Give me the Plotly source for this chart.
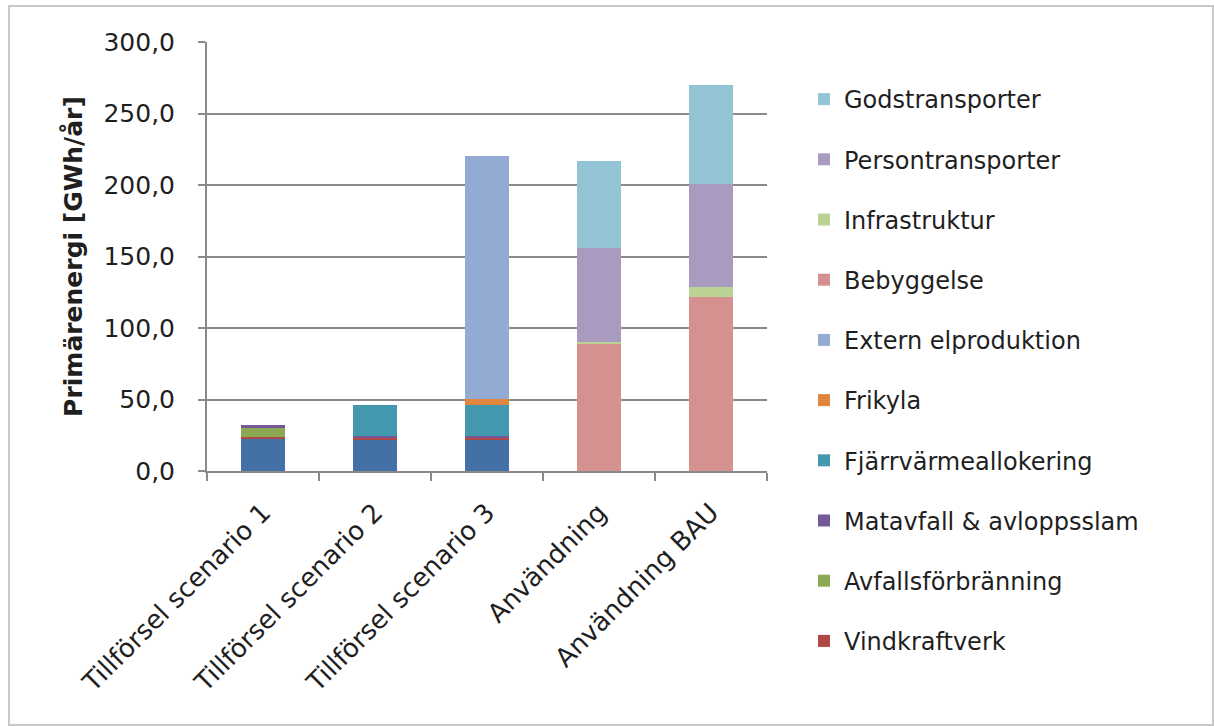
import plotly.graph_objects as go

categories = ["Tillförsel scenario 1", "Tillförsel scenario 2", "Tillförsel scenario 3",
              "Användning", "Användning BAU"]

# series values in GWh/år (stacked bottom to top)
ovrigt = [22.2, 21.8, 21.8, 0, 0]
vindkraftverk = [1.5, 1.5, 1.5, 0, 0]
avfallsforbranning = [6.3, 0, 0, 0, 0]
matavfall = [2.2, 1.3, 1.3, 0, 0]
fjarrvarme = [0, 21.6, 21.6, 0, 0]
frikyla = [0, 0, 3.9, 0, 0]
extern_el = [0, 0, 170.2, 0, 0]
bebyggelse = [0, 0, 0, 88.6, 122.0]
infrastruktur = [0, 0, 0, 1.8, 7.0]
persontransporter = [0, 0, 0, 65.6, 71.5]
godstransporter = [0, 0, 0, 60.8, 69.5]

series = [
    ("Övrig tillförsel", ovrigt, "#4470A8", False),
    ("Vindkraftverk", vindkraftverk, "#B04744", True),
    ("Avfallsförbränning", avfallsforbranning, "#8BA852", True),
    ("Matavfall & avloppsslam", matavfall, "#73599A", True),
    ("Fjärrvärmeallokering", fjarrvarme, "#4398AE", True),
    ("Frikyla", frikyla, "#E0863F", True),
    ("Extern elproduktion", extern_el, "#93AAD3", True),
    ("Bebyggelse", bebyggelse, "#D59190", True),
    ("Infrastruktur", infrastruktur, "#BAD395", True),
    ("Persontransporter", persontransporter, "#A99AC0", True),
    ("Godstransporter", godstransporter, "#92C4D6", True),
]

FONT = "DejaVu Sans"
TXT = "#1f1f1f"
AX = "#8a8a8a"

fig = go.Figure()
for i, (name, vals, color, show) in enumerate(series):
    fig.add_trace(go.Bar(
        x=categories, y=vals, name=name, marker=dict(color=color, line=dict(width=0)),
        showlegend=show, legendgroup=f"g{i}", legendrank=100 - i,
    ))

L, R, T, B = 207, 447, 42, 255
W, H = 1214, 726
pw, ph = W - L - R, H - T - B

def px_x(px):
    return (px - L) / pw

def px_y(py):
    return (H - B - py) / ph

fig.update_layout(
    width=W, height=H,
    margin=dict(l=L, r=R, t=T, b=B, pad=0, autoexpand=False),
    barmode="stack", bargap=0.6,
    paper_bgcolor="white", plot_bgcolor="white",
    separators=",.",
    font=dict(family=FONT, color=TXT, size=22),
    legend=dict(
        x=804 / W, y=1 - 77 / H, xanchor="left", yanchor="top",
        xref="container", yref="container",
        traceorder="grouped", tracegroupgap=26, maxheight=700,
        font=dict(family=FONT, size=24, color=TXT),
        bgcolor="rgba(0,0,0,0)",
    ),
    showlegend=True,
    shapes=[dict(type="rect", xref="paper", yref="paper",
                 x0=px_x(9), x1=px_x(1213), y0=px_y(725), y1=px_y(6),
                 line=dict(color="#c8c8c8", width=2), fillcolor="rgba(0,0,0,0)", layer="below")],
)

fig.update_xaxes(
    type="category", tickson="boundaries", ticks="outside", ticklen=8,
    tickcolor=AX, tickwidth=2, showline=True, linecolor=AX, linewidth=2,
    showgrid=False, tickangle=-45, automargin=False, ticklabelstandoff=14,
    tickfont=dict(family=FONT, size=26, color=TXT),
)
fig.update_yaxes(
    range=[0, 300], dtick=50, tickformat=".1f", ticks="outside", ticklen=7,
    tickcolor=AX, tickwidth=2, showline=True, linecolor=AX, linewidth=2,
    showgrid=True, gridcolor=AX, gridwidth=2, zeroline=False,
    ticklabelstandoff=18, automargin=False,
    tickfont=dict(family=FONT, size=25, color=TXT),
    title=dict(text="<b>Primärenergi [GWh/år]</b>", standoff=14,
               font=dict(family=FONT, size=25, color=TXT)),
)

fig.write_html("out.html")
